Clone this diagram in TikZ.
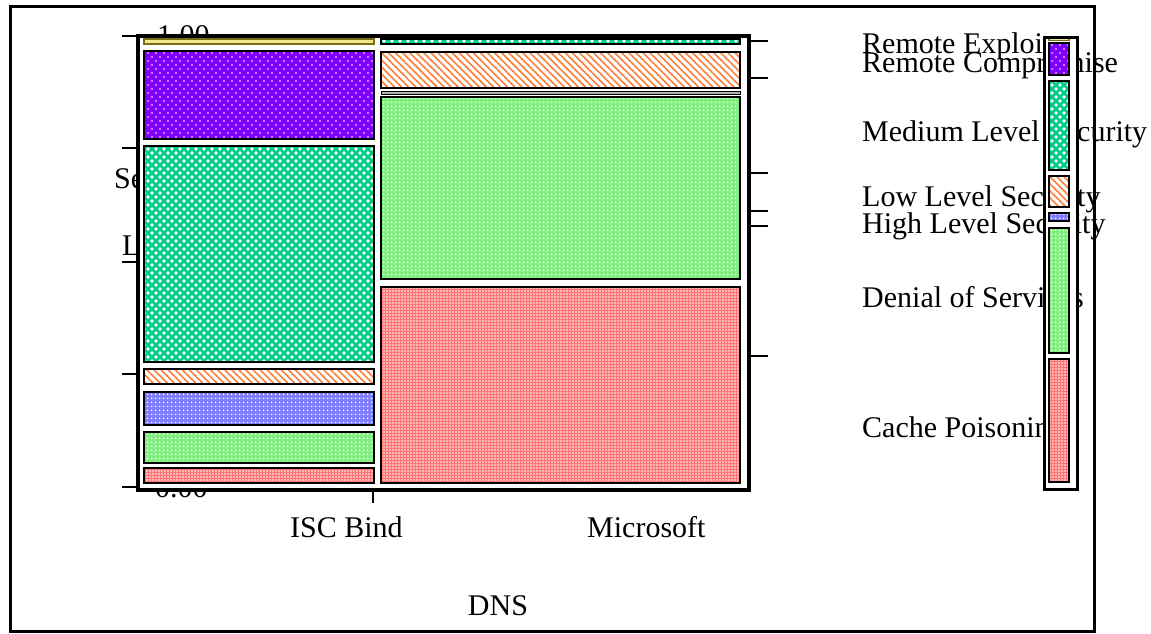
\documentclass[tikz,border=0pt]{standalone}
\usepackage{fontspec}
\setmainfont{Liberation Serif}
\usetikzlibrary{patterns.meta}
\definecolor{cyel}{RGB}{240,232,140}
\definecolor{colive}{RGB}{120,110,20}
\definecolor{cpur}{RGB}{128,0,255}
\definecolor{cteal}{RGB}{0,204,136}
\definecolor{corg}{RGB}{255,125,55}
\definecolor{chigh}{RGB}{125,125,255}
\definecolor{cdos}{RGB}{130,238,130}
\definecolor{ccache}{RGB}{255,115,115}
\tikzset{
  bx/.style={draw=black, line width=2pt},
  RE/.style={draw=colive, line width=1.5pt, preaction={fill=cyel}},
  RC/.style={bx, preaction={fill=cpur},
    preaction={pattern={Dots[distance=8pt,radius=0.9pt]}, pattern color=white},
    preaction={pattern={Dots[distance=8pt,radius=0.9pt,xshift=4pt,yshift=4pt]}, pattern color=white}},
  MED/.style={bx, preaction={fill=cteal},
    preaction={pattern={Dots[distance=8pt,radius=1.8pt]}, pattern color=white},
    preaction={pattern={Dots[distance=8pt,radius=1.8pt,xshift=4pt,yshift=4pt]}, pattern color=white}},
  LOW/.style={bx, preaction={fill=white},
    preaction={pattern={Lines[angle=-45,distance=5pt,line width=1.6pt]}, pattern color=corg}},
  HIGH/.style={bx, preaction={fill=chigh},
    preaction={pattern={Dots[distance=4pt,radius=1pt]}, pattern color=white}},
  DOS/.style={bx, preaction={fill=cdos},
    preaction={pattern={Dots[distance=4pt,radius=1pt]}, pattern color=white}},
  CACHE/.style={bx, preaction={fill=ccache},
    preaction={pattern={Dots[distance=3pt,radius=0.8pt]}, pattern color=white}},
  lab/.style={anchor=base west, inner sep=0pt, font=\fontsize{30}{36}\selectfont},
  axis/.style={draw=black, line width=3.2pt},
  tick/.style={draw=black, line width=2.8pt},
}
\begin{document}
\begin{tikzpicture}[x=1pt,y=-1pt]
\useasboundingbox (0,0) rectangle (1151,633);
% outer frame
\draw[line width=3pt] (10.5,6.5) rectangle (1094.5,631.5);
% axis labels (partly hidden by the plot area)
\node[lab] (t100) at (157,45) {1.00};
\node[lab] (t000) at (155,497) {0.00};
\node[lab] (yse) at (114,188) {Se};
\node[lab] (yl) at (122,255) {L};
% plot area
\fill[white] (139,37) rectangle (749,489);
% ISC Bind column
\path[RE]    (144,39) rectangle (374,44);
\path[RC]    (144,51) rectangle (374,139);
\path[MED]   (144,146) rectangle (374,362);
\path[LOW]   (144,369) rectangle (374,384);
\path[HIGH]  (144,392) rectangle (374,425);
\path[DOS]   (144,432) rectangle (374,463);
\path[CACHE] (144,468) rectangle (374,483);
% Microsoft column
\path[MED]   (381,39) rectangle (740,44);
\path[LOW]   (381,52) rectangle (740,88);
\path[draw=black, line width=1pt, fill=gray!60] (381,91) rectangle (740,94);
\path[DOS]   (381,97) rectangle (740,279);
\path[CACHE] (381,287) rectangle (740,483);
% plot frame
\draw[axis] (138,36) rectangle (749,490);
% left ticks
\foreach \yy in {36,148,262,374,487} \draw[tick] (122,\yy) -- (138,\yy);
% right ticks
\foreach \yy in {41,78,173,211,226,356} \draw[tick] (749,\yy) -- (768,\yy);
% bottom tick
\draw[line width=1.6pt] (373,490) -- (373,503);
% x labels
\node[lab] (isc) at (290,537) {ISC Bind};
\node[lab] (ms) at (587,537) {Microsoft};
\node[lab, anchor=base] (dns) at (498,615) {DNS};
% legend labels
\node[lab] (lre) at (862,53) {Remote Exploit};
\node[lab] (lrc) at (862,72) {Remote Compromise};
\node[lab] (lmed) at (862,141) {Medium Level Security};
\node[lab] (llow) at (862,206) {Low Level Security};
\node[lab] (lhigh) at (862,233) {High Level Security};
\node[lab] (ldos) at (862,307) {Denial of Services};
\node[lab] (lcache) at (862,437) {Cache Poisoning};
% legend column
\fill[white] (1044.5,37) rectangle (1077.5,489);
\path[RE]    (1049,38.5) rectangle (1069,40.5);
\path[RC]    (1049,43) rectangle (1069,75);
\path[MED]   (1049,81) rectangle (1069,170);
\path[LOW]   (1049,176) rectangle (1069,207);
\path[HIGH]  (1049,213) rectangle (1069,221);
\path[DOS]   (1049,228) rectangle (1069,353);
\path[CACHE] (1049,359) rectangle (1069,482);
\draw[line width=3pt] (1044.5,37) rectangle (1077.5,489);
\end{tikzpicture}
\end{document}
